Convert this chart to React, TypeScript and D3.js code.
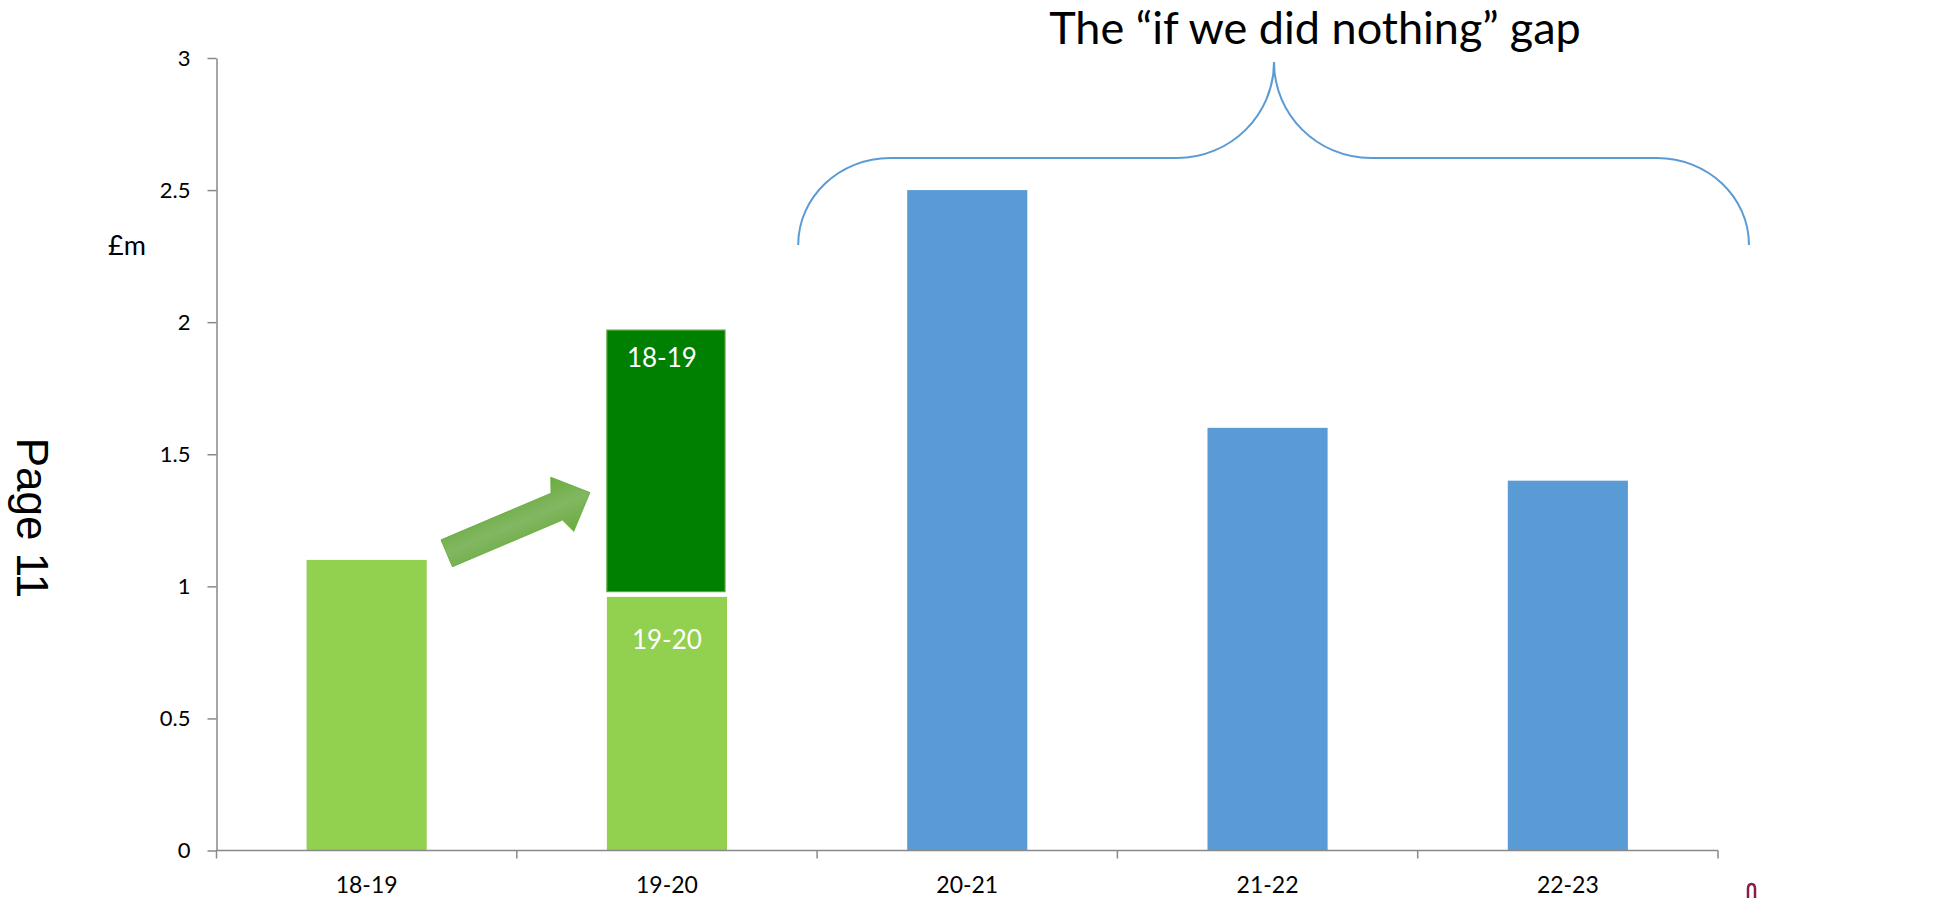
import React, { useEffect, useRef } from 'react';
import * as d3 from 'd3';

// chart values
const categories = ['18-19', '19-20', '20-21', '21-22', '22-23'];
const barValues = [1.1, 0.96, 2.5, 1.6, 1.4];
const greenCategories = ['18-19', '19-20']; // the rest are blue
const yTicks = [0, 0.5, 1, 1.5, 2, 2.5, 3];

// the 18-19 money carried into 19-20 (drawn on top, small gap)
const carriedCategory = '19-20';
const carriedFrom = [0.98];
const carriedTo = [1.97];
const carriedLabel = '18-19';

const titleText = 'The \u201cif we did nothing\u201d gap';
const unitLabel = '£m';
const pageLabel = 'Page 11';

const W = 1940;
const H = 898;

const LIGHT_GREEN = '#92D050';
const DARK_GREEN = '#008000';
const BLUE = '#5B9BD5';
const AXIS = '#898989';
const FONT = 'Lato, "Open Sans", sans-serif';

const App: React.FC = () => {
  const svgRef = useRef<SVGSVGElement | null>(null);

  useEffect(() => {
    if (!svgRef.current) return;
    const svg = d3.select(svgRef.current);
    svg.selectAll('*').remove();

    const left = 216.5;
    const right = 1718;
    const top = 58;
    const bottom = 850.5;

    const x = d3.scaleBand<string>()
      .domain(categories)
      .range([left, right])
      .paddingInner(0.6)
      .paddingOuter(0.3);

    const y = d3.scaleLinear().domain([0, 3]).range([bottom, top]);

    const defs = svg.append('defs');
    const grad = defs.append('linearGradient')
      .attr('id', 'arrowGrad')
      .attr('x1', 0).attr('y1', 0).attr('x2', 0).attr('y2', 1);
    grad.append('stop').attr('offset', '0%').attr('stop-color', '#69ac3d');
    grad.append('stop').attr('offset', '50%').attr('stop-color', '#82b763');
    grad.append('stop').attr('offset', '100%').attr('stop-color', '#69ac3d');

    // bars
    svg.append('g')
      .selectAll('rect')
      .data(categories)
      .enter()
      .append('rect')
      .attr('x', d => x(d) ?? 0)
      .attr('width', x.bandwidth())
      .attr('y', (_d, i) => y(barValues[i]))
      .attr('height', (_d, i) => y(0) - y(barValues[i]))
      .attr('fill', d => (greenCategories.includes(d) ? LIGHT_GREEN : BLUE));

    // carried forward block
    const cx = x(carriedCategory) ?? 0;
    svg.append('rect')
      .attr('x', cx)
      .attr('width', x.bandwidth() - 2)
      .attr('y', y(carriedTo[0]))
      .attr('height', y(carriedFrom[0]) - y(carriedTo[0]))
      .attr('fill', DARK_GREEN)
      .attr('stroke', '#5aa83a')
      .attr('stroke-width', 1.2);

    svg.append('text')
      .attr('x', cx + x.bandwidth() / 2 - 5)
      .attr('y', y(carriedTo[0]) + 37)
      .attr('text-anchor', 'middle')
      .attr('fill', '#fff')
      .style('font-family', FONT)
      .style('font-size', '26px')
      .text(carriedLabel);

    svg.append('text')
      .attr('x', cx + x.bandwidth() / 2)
      .attr('y', y(barValues[1]) + 52)
      .attr('text-anchor', 'middle')
      .attr('fill', '#fff')
      .style('font-family', FONT)
      .style('font-size', '26px')
      .text(carriedCategory);

    // y axis
    const yAxis = svg.append('g')
      .attr('transform', `translate(${left},0)`)
      .call(d3.axisLeft(y).tickValues(yTicks).tickSize(9).tickPadding(17).tickSizeOuter(0)
        .tickFormat(d => String(d)));
    yAxis.selectAll('path, line').attr('stroke', AXIS).attr('stroke-width', 1.5);
    yAxis.selectAll('text')
      .attr('fill', '#000')
      .style('font-family', FONT)
      .style('font-size', '22px');

    // x axis: ticks between categories
    const step = x.step();
    const boundaries = d3.range(categories.length + 1).map(i => left + i * step);
    const xAxis = svg.append('g');
    xAxis.append('line')
      .attr('x1', left).attr('x2', right)
      .attr('y1', bottom).attr('y2', bottom)
      .attr('stroke', AXIS).attr('stroke-width', 1.5);
    xAxis.selectAll('.xt')
      .data(boundaries)
      .enter()
      .append('line')
      .attr('x1', d => d).attr('x2', d => d)
      .attr('y1', bottom).attr('y2', bottom + 8)
      .attr('stroke', AXIS).attr('stroke-width', 1.5);
    xAxis.selectAll('text')
      .data(categories)
      .enter()
      .append('text')
      .attr('x', d => (x(d) ?? 0) + x.bandwidth() / 2)
      .attr('y', 893)
      .attr('text-anchor', 'middle')
      .attr('fill', '#000')
      .style('font-family', FONT)
      .style('font-size', '23px')
      .text(d => d);

    // unit label
    svg.append('text')
      .attr('x', 127).attr('y', 255)
      .attr('text-anchor', 'middle')
      .style('font-family', FONT)
      .style('font-size', '27px')
      .text(unitLabel);

    // page number, rotated
    svg.append('text')
      .attr('transform', 'translate(17,518) rotate(90)')
      .attr('text-anchor', 'middle')
      .style('font-family', '"Liberation Sans", Arial, sans-serif')
      .style('font-size', '44px')
      .text(pageLabel);

    // title
    svg.append('text')
      .attr('x', 1315).attr('y', 44)
      .attr('text-anchor', 'middle')
      .style('font-family', FONT)
      .style('font-size', '45px')
      .text(titleText);

    // curly brace over the forecast years
    const bl = (x('20-21') ?? 0) - 109;
    const br = right + 31;
    const bm = 1274;
    const by0 = 245;
    const by1 = 158;
    const tipY = 62;
    const k = 0.552;
    const rx = 92;
    const mr = 97;
    const brace = d3.path();
    brace.moveTo(bl, by0);
    brace.bezierCurveTo(bl, by0 - (by0 - by1) * k, bl + rx - rx * k, by1, bl + rx, by1);
    brace.lineTo(bm - mr, by1);
    brace.bezierCurveTo(bm - mr + mr * k, by1, bm, tipY + (by1 - tipY) * k, bm, tipY);
    brace.bezierCurveTo(bm, tipY + (by1 - tipY) * k, bm + mr - mr * k, by1, bm + mr, by1);
    brace.lineTo(br - rx, by1);
    brace.bezierCurveTo(br - rx + rx * k, by1, br, by0 - (by0 - by1) * k, br, by0);
    svg.append('path')
      .attr('d', brace.toString())
      .attr('fill', 'none')
      .attr('stroke', BLUE)
      .attr('stroke-width', 2);

    // arrow from the 18-19 bar to the carried block
    const tailX = (x('18-19') ?? 0) + x.bandwidth() + 20;
    const tailY = y(1.125);
    const tipX = cx - 17;
    const tipYa = y(1.355);
    const len = Math.hypot(tipX - tailX, tipYa - tailY);
    const ang = (Math.atan2(tipYa - tailY, tipX - tailX) * 180) / Math.PI;
    const sw = 14.6;
    const hw = 29.4;
    const hl = 30;
    const pts: [number, number][] = [
      [0, -sw], [len - hl - 6, -sw], [len - hl, -hw], [len, 0],
      [len - hl, hw], [len - hl - 6, sw], [0, sw],
    ];
    svg.append('polygon')
      .attr('transform', `translate(${tailX},${tailY}) rotate(${ang})`)
      .attr('points', pts.map(p => p.join(',')).join(' '))
      .attr('fill', 'url(#arrowGrad)')
      .attr('stroke', '#6aab40')
      .attr('stroke-width', 0.8);

    // clipped logo fragment at bottom right
    svg.append('path')
      .attr('d', 'M1748,898 L1748,889 Q1748,884 1751.5,884 Q1755,884 1755,889 L1755,898')
      .attr('fill', 'none')
      .attr('stroke', '#8a1c4c')
      .attr('stroke-width', 2.5);
  }, []);

  return (
    <svg
      ref={svgRef}
      width={W}
      height={H}
      style={{ position: 'absolute', left: 0, top: 0, display: 'block', background: '#fff' }}
    />
  );
};

export default App;
